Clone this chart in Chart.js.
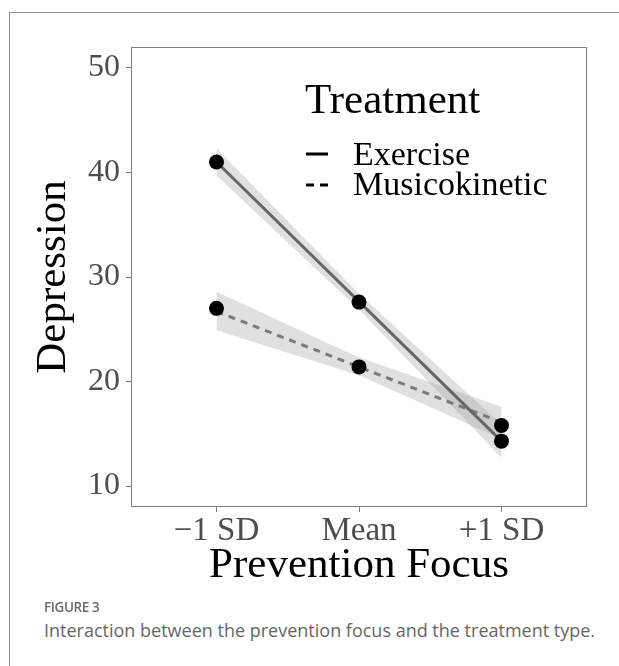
<!DOCTYPE html>
<html>
<head>
<meta charset="utf-8">
<script src="https://cdn.jsdelivr.net/npm/chart.js@4/dist/chart.umd.min.js"></script>
<style>
  html, body { margin: 0; padding: 0; background: #fff; }
  body { width: 619px; height: 666px; position: relative; overflow: hidden; }
  .frame { position: absolute; left: 9px; top: 12px; right: -2px; bottom: -2px;
           border-left: 1px solid #8c8c8c; border-top: 1px solid #8c8c8c; }
  #wrap { position: absolute; left: 0; top: 0; width: 619px; height: 600px; }
  .cap { position: absolute; left: 44px; font-family: "Open Sans", sans-serif; color: #666; line-height: 1; white-space: nowrap; }
  .fig { top: 601px; font-size: 13.5px; font-weight: 600; letter-spacing: -0.4px; color: #6b6b6b; }
  .txt { top: 621px; font-size: 18px; }
</style>
</head>
<body>
<div class="frame"></div>
<div id="wrap"><canvas id="chart" width="619" height="600"></canvas></div>
<div class="cap fig">FIGURE 3</div>
<div class="cap txt">Interaction between the prevention focus and the treatment type.</div>
<script>
// prevention focus levels
const levels = [1, 2, 3];
const levelLabels = ['\u22121 SD', 'Mean', '+1 SD'];
const yTicks = [10, 20, 30, 40, 50];

// observed means (dots)
const exerciseMeans = [41.0, 27.6, 14.3];
const musicMeans = [27.0, 21.4, 15.8];

// fitted lines
const exerciseFit = [41.0, 27.65, 14.3];
const musicFit = [26.7, 21.4, 16.1];

// confidence ribbons
const exerciseLow = [39.7, 26.9, 12.7];
const exerciseHigh = [42.3, 28.4, 15.9];
const musicLow = [24.9, 20.6, 14.5];
const musicHigh = [28.6, 22.3, 17.6];

const pts = arr => arr.map((v, i) => ({ x: levels[i], y: v }));
const serif = '"Liberation Serif", "Times New Roman", serif';
const ribbon = 'rgba(153,153,153,0.3)';

const boxAndLegend = {
  id: 'boxAndLegend',
  afterDatasetsDraw(chart) {
    const { ctx, chartArea: a } = chart;
    ctx.save();
    ctx.strokeStyle = '#7f7f7f';
    ctx.lineWidth = 1;
    ctx.strokeRect(a.left + 0.5, a.top + 0.5, a.right - a.left - 1, a.bottom - a.top - 1);

    // legend
    ctx.fillStyle = '#000';
    ctx.textBaseline = 'alphabetic';
    ctx.font = '43px ' + serif;
    ctx.fillText('Treatment', 305, 113);
    ctx.font = '34px ' + serif;
    ctx.fillText('Exercise', 353, 165);
    ctx.fillText('Musicokinetic', 353, 195);
    ctx.strokeStyle = '#000';
    ctx.lineWidth = 3;
    ctx.beginPath(); ctx.moveTo(306, 154); ctx.lineTo(328, 154); ctx.stroke();
    ctx.setLineDash([8, 6]);
    ctx.beginPath(); ctx.moveTo(306, 185); ctx.lineTo(328, 185); ctx.stroke();
    ctx.restore();
  }
};

new Chart(document.getElementById('chart'), {
  type: 'line',
  data: {
    datasets: [
      { data: pts(exerciseLow), borderWidth: 0, pointRadius: 0, fill: false, order: 3 },
      { data: pts(exerciseHigh), borderWidth: 0, pointRadius: 0, fill: 0, backgroundColor: ribbon, order: 3 },
      { data: pts(musicLow), borderWidth: 0, pointRadius: 0, fill: false, order: 3 },
      { data: pts(musicHigh), borderWidth: 0, pointRadius: 0, fill: 2, backgroundColor: ribbon, order: 3 },
      { label: 'Exercise', data: pts(exerciseFit), borderColor: '#666', borderWidth: 3, pointRadius: 0, fill: false, order: 1 },
      { label: 'Musicokinetic', data: pts(musicFit), borderColor: '#7a7a7a', borderWidth: 3, borderDash: [7, 6], pointRadius: 0, fill: false, order: 1 },
      { data: pts(exerciseMeans), showLine: false, pointRadius: 7.5, pointBackgroundColor: '#000', pointBorderWidth: 0, order: 0 },
      { data: pts(musicMeans), showLine: false, pointRadius: 7.5, pointBackgroundColor: '#000', pointBorderWidth: 0, order: 0 }
    ]
  },
  options: {
    responsive: false,
    animation: false,
    events: [],
    layout: { padding: { top: 47, right: 32, left: 0, bottom: 0 } },
    plugins: { legend: { display: false }, tooltip: { enabled: false } },
    scales: {
      x: {
        type: 'linear',
        min: 0.4,
        max: 3.6,
        afterBuildTicks: s => { s.ticks = levels.map(v => ({ value: v })); },
        afterFit: s => { s.height = 93; },
        ticks: {
          callback: v => levelLabels[levels.indexOf(v)],
          font: { family: serif, size: 33 },
          color: '#4d4d4d',
          padding: 0,
          maxRotation: 0,
          autoSkip: false
        },
        grid: { drawOnChartArea: false, drawTicks: true, tickLength: 5, tickColor: '#7f7f7f' },
        border: { display: false },
        title: { display: true, text: 'Prevention Focus', color: '#000', font: { family: serif, size: 43 }, padding: { top: 0, bottom: 8 } }
      },
      y: {
        min: 8,
        max: 52,
        afterBuildTicks: s => { s.ticks = yTicks.map(v => ({ value: v })); },
        afterFit: s => { s.width = 131; },
        ticks: {
          font: { family: serif, size: 32 },
          color: '#4d4d4d',
          padding: 6
        },
        grid: { drawOnChartArea: false, drawTicks: true, tickLength: 5, tickColor: '#7f7f7f' },
        border: { display: false },
        title: { display: true, text: 'Depression', color: '#000', font: { family: serif, size: 43 }, padding: { top: 28, bottom: 0 } }
      }
    }
  },
  plugins: [boxAndLegend]
});
</script>
</body>
</html>
